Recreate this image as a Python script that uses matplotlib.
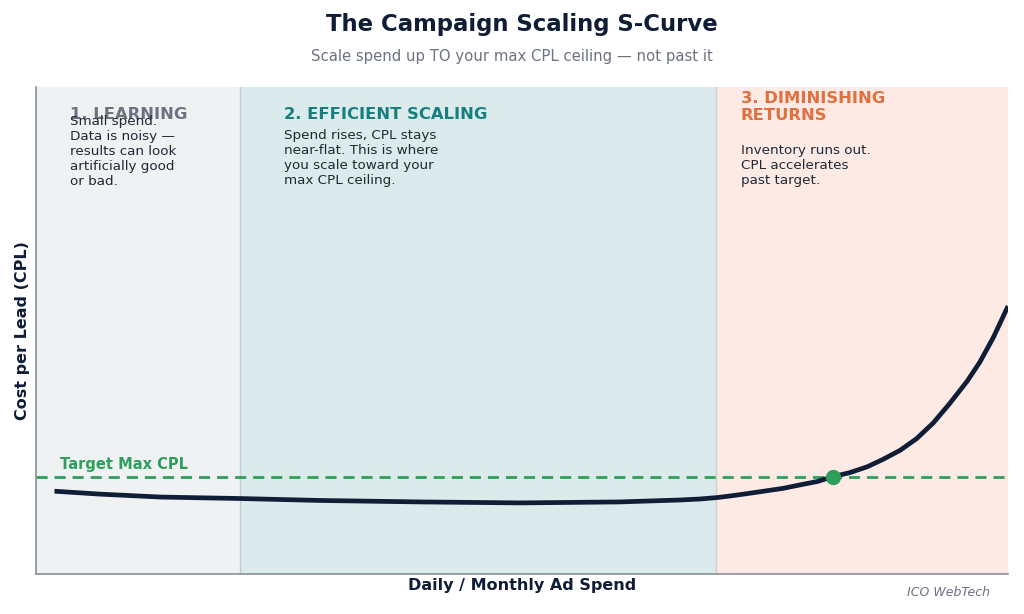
import matplotlib
import matplotlib.pyplot as plt
matplotlib.use("Agg")

# spend (0-100 scale) vs cost per lead (0-100 scale)
spend = [1.9, 6.6, 12.8, 21.0, 29.2, 39.5, 49.8, 60.1, 66.3, 68.3, 70.1, 71.7,
         73.5, 75.2, 76.9, 78.6, 80.4, 82.0, 83.7, 85.5, 87.1, 88.9, 90.6, 92.3,
         94.0, 95.8, 97.1, 98.5, 100.0]
cpl = [17.0, 16.4, 15.8, 15.5, 15.1, 14.8, 14.6, 14.8, 15.2, 15.4, 15.7, 16.1,
       16.6, 17.1, 17.6, 18.3, 19.0, 20.0, 20.8, 22.0, 23.5, 25.4, 27.8, 31.0,
       35.0, 39.6, 43.5, 48.6, 55.0]

target_cpl = 20
cross_spend = 82

zone_edges = [0, 21, 70, 100]
zone_colors = ["#eff1f3", "#dbeaea", "#fdeae4"]
zone_titles = ["1. LEARNING", "2. EFFICIENT SCALING", "3. DIMINISHING\nRETURNS"]
zone_title_colors = ["#6b7280", "#177f80", "#e07040"]
zone_bodies = [
    "Small spend.\nData is noisy —\nresults can look\nartificially good\nor bad.",
    "Spend rises, CPL stays\nnear-flat. This is where\nyou scale toward your\nmax CPL ceiling.",
    "Inventory runs out.\nCPL accelerates\npast target.",
]

NAVY = "#0f1d36"
GREEN = "#2e9e5b"
GRAY = "#6b7280"

fig = plt.figure(figsize=(10.24, 6.14), dpi=100)
ax = fig.add_axes([36/1024, 40/614, 972/1024, 487/614])

for i in range(3):
    ax.axvspan(zone_edges[i], zone_edges[i+1], color=zone_colors[i], lw=0, zorder=0)
ax.axvline(zone_edges[1], color="#b9d0d8", lw=1, zorder=1)
ax.axvline(zone_edges[2], color="#cfcfcf", lw=1, zorder=1)

ax.axhline(target_cpl, color=GREEN, lw=2, ls=(0, (4, 2.5)), zorder=2)
ax.text(2.5, target_cpl + 1.0, "Target Max CPL", color=GREEN, fontsize=10.5,
        fontweight="bold", va="bottom", ha="left")

ax.plot(spend, cpl, color=NAVY, lw=3.4, solid_capstyle="butt",
        solid_joinstyle="round", zorder=3)
ax.plot([cross_spend], [target_cpl], "o", color=GREEN, ms=10, zorder=4)

# zone labels
title_pos = [(3.5, 92.8), (25.5, 92.8), (72.5, 92.6)]
body_pos = [(3.5, 94.2), (25.5, 91.4), (72.5, 88.3)]
for i in range(3):
    ax.text(title_pos[i][0], title_pos[i][1], zone_titles[i], color=zone_title_colors[i],
            fontsize=11.8, fontweight="bold", va="bottom", ha="left", linespacing=1.2)
    ax.text(body_pos[i][0], body_pos[i][1], zone_bodies[i], color="#1f2937",
            fontsize=9.7, va="top", ha="left", linespacing=1.2)

ax.set_xlim(0, 100)
ax.set_ylim(0, 100)
ax.set_xticks([])
ax.set_yticks([])
for s in ["top", "right"]:
    ax.spines[s].set_visible(False)
for s in ["left", "bottom"]:
    ax.spines[s].set_color("#8a9099")
    ax.spines[s].set_linewidth(1.2)

ax.set_xlabel("Daily / Monthly Ad Spend", fontsize=11.5, fontweight="bold",
              color=NAVY, labelpad=3)
ax.set_ylabel("Cost per Lead (CPL)", fontsize=11.5, fontweight="bold",
              color=NAVY, labelpad=4)

fig.text(522/1024, 1 - 24/614, "The Campaign Scaling S-Curve", fontsize=16.4,
         fontweight="bold", color=NAVY, ha="center", va="center")
fig.text(512/1024, 1 - 56/614, "Scale spend up TO your max CPL ceiling — not past it",
         fontsize=10.7, color=GRAY, ha="center", va="center")
fig.text(990/1024, 1 - 592/614, "ICO WebTech", fontsize=9, style="italic",
         color=GRAY, ha="right", va="center")

fig.savefig("out.png", dpi=100)
